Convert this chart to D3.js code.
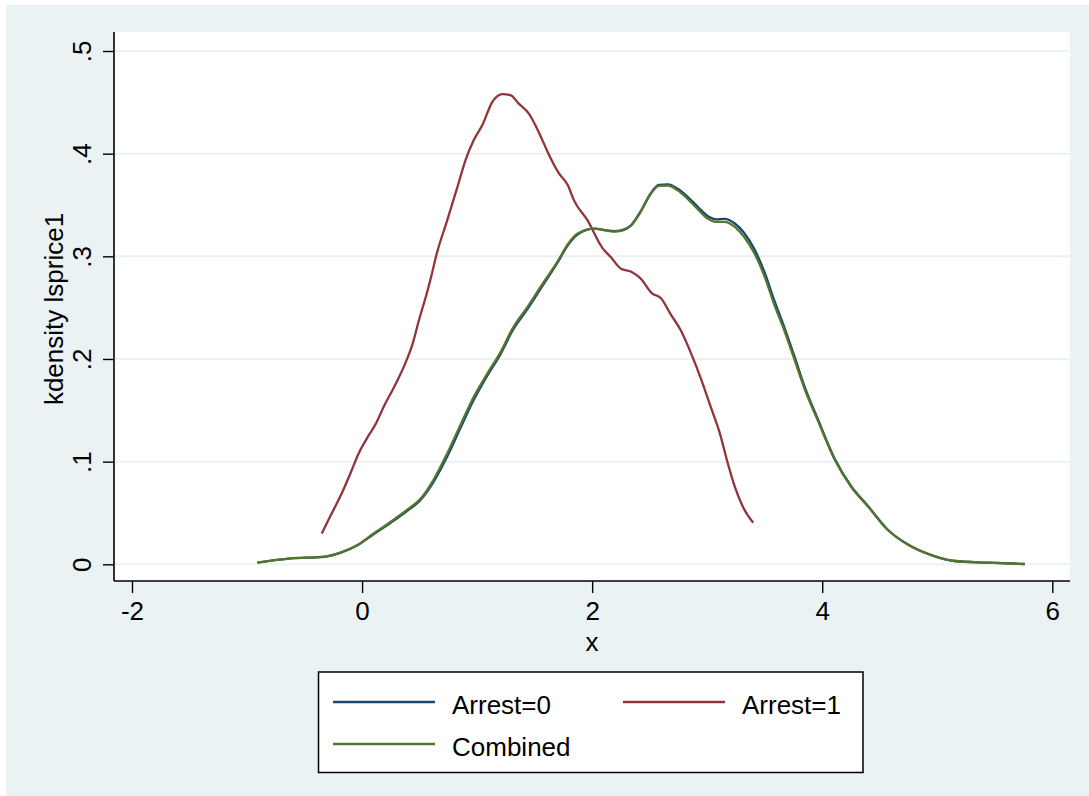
<!DOCTYPE html>
<html>
<head>
<meta charset="utf-8">
<script src="https://cdn.jsdelivr.net/npm/d3@7"></script>
<style>
  body { margin: 0; background: #fff; }
  text { font-family: "Liberation Sans", Arial, Helvetica, sans-serif; fill: #000; }
</style>
</head>
<body>
<svg id="chart" width="1089" height="796"></svg>
<script>
// kernel density estimates
const arrest0X = [-0.91, -0.62, -0.33, -0.19, -0.04, 0.10, 0.25, 0.39, 0.51, 0.62, 0.74, 0.86, 0.97, 1.09, 1.20, 1.31, 1.44, 1.55, 1.70, 1.79, 1.87, 2.02, 2.10, 2.19, 2.26, 2.34, 2.42, 2.51, 2.58, 2.66, 2.74, 2.83, 2.92, 3.00, 3.08, 3.15, 3.24, 3.32, 3.41, 3.50, 3.58, 3.67, 3.76, 3.85, 3.96, 4.11, 4.25, 4.40, 4.57, 4.75, 4.92, 5.15, 5.44, 5.76];
const arrest0Y = [0.0016, 0.0058, 0.0073, 0.0111, 0.0185, 0.0293, 0.0405, 0.0518, 0.0628, 0.080, 0.105, 0.134, 0.160, 0.184, 0.204, 0.228, 0.249, 0.268, 0.294, 0.311, 0.321, 0.327, 0.3258, 0.3245, 0.3255, 0.3305, 0.3435, 0.3615, 0.3695, 0.370, 0.366, 0.358, 0.348, 0.3395, 0.336, 0.3365, 0.332, 0.323, 0.307, 0.284, 0.258, 0.231, 0.202, 0.172, 0.142, 0.1025, 0.0763, 0.0565, 0.0337, 0.019, 0.0101, 0.0032, 0.0016, 0.0003];

const arrest1X = [-0.35, -0.28, -0.19, -0.10, -0.03, 0.06, 0.12, 0.19, 0.28, 0.38, 0.44, 0.49, 0.57, 0.60, 0.65, 0.74, 0.83, 0.90, 0.97, 1.05, 1.13, 1.22, 1.29, 1.36, 1.45, 1.54, 1.62, 1.71, 1.79, 1.84, 1.96, 2.09, 2.16, 2.25, 2.34, 2.42, 2.52, 2.60, 2.68, 2.77, 2.86, 2.95, 3.03, 3.11, 3.18, 3.24, 3.31, 3.40];
const arrest1Y = [0.030, 0.046, 0.066, 0.089, 0.108, 0.126, 0.137, 0.154, 0.173, 0.197, 0.215, 0.236, 0.267, 0.280, 0.303, 0.335, 0.368, 0.394, 0.413, 0.429, 0.450, 0.458, 0.457, 0.449, 0.439, 0.420, 0.400, 0.381, 0.369, 0.355, 0.335, 0.308, 0.2995, 0.288, 0.285, 0.2785, 0.264, 0.259, 0.244, 0.228, 0.2055, 0.1795, 0.1535, 0.1276, 0.098, 0.0756, 0.056, 0.0405];

const combinedX = arrest0X;
const combinedY = [0.0016, 0.0058, 0.0074, 0.0113, 0.0188, 0.030, 0.0415, 0.053, 0.064, 0.082, 0.108, 0.137, 0.163, 0.186, 0.206, 0.230, 0.251, 0.270, 0.295, 0.312, 0.322, 0.327, 0.3255, 0.324, 0.325, 0.330, 0.343, 0.361, 0.3687, 0.369, 0.3645, 0.356, 0.3457, 0.337, 0.3336, 0.3336, 0.3287, 0.319, 0.303, 0.280, 0.254, 0.228, 0.199, 0.170, 0.1405, 0.1016, 0.0756, 0.056, 0.0334, 0.0188, 0.010, 0.0032, 0.0016, 0.0003];

const xTicks = [-2, 0, 2, 4, 6];
const yTicks = [0, 0.1, 0.2, 0.3, 0.4, 0.5];
const yTickLabels = ["0", ".1", ".2", ".3", ".4", ".5"];
const legendLabels = ["Arrest=0", "Arrest=1", "Combined"];
const colors = ["#1a476f", "#90353b", "#55752f"];

const zip = (xs, ys) => xs.map((x, i) => ({ x: x, y: ys[i] }));
const series = [
    { name: legendLabels[0], color: colors[0], values: zip(arrest0X, arrest0Y) },
    { name: legendLabels[1], color: colors[1], values: zip(arrest1X, arrest1Y) },
    { name: legendLabels[2], color: colors[2], values: zip(combinedX, combinedY) }
];

const FONT = 26;
const svg = d3.select("#chart");
// graph region + plot region (stata s2color look)
svg.append("rect").attr("x", 6).attr("y", 5).attr("width", 1083).attr("height", 791).attr("fill", "#eaf2f3");
const plot = { left: 114, right: 1070, top: 32, bottom: 581 };
svg.append("rect").attr("x", plot.left).attr("y", plot.top)
    .attr("width", plot.right - plot.left).attr("height", plot.bottom - plot.top).attr("fill", "#fff");

const x = d3.scaleLinear().domain([-2, 6]).range([132, 1052.3]);
const y = d3.scaleLinear().domain([0, 0.5]).range([564.3, 51]);

// gridlines
svg.append("g").selectAll("line").data(yTicks).enter().append("line")
    .attr("x1", plot.left).attr("x2", plot.right)
    .attr("y1", d => y(d)).attr("y2", d => y(d))
    .attr("stroke", "#eaf2f3").attr("stroke-width", 2);

// curves
const line = d3.line().x(d => x(d.x)).y(d => y(d.y)).curve(d3.curveMonotoneX);
svg.append("g").selectAll("path").data(series).enter().append("path")
    .attr("d", d => line(d.values))
    .attr("fill", "none").attr("stroke", d => d.color).attr("stroke-width", 2.3)
    .attr("stroke-linejoin", "round");

// y axis
const yAxis = svg.append("g").attr("transform", `translate(${plot.left},0)`)
    .call(d3.axisLeft(y).tickValues(yTicks).tickSize(11).tickFormat((d, i) => yTickLabels[i]));
yAxis.select(".domain").attr("d", `M0,${plot.top}V${plot.bottom}`).attr("stroke", "#000").attr("stroke-width", 1.6);
yAxis.selectAll(".tick line").attr("stroke", "#000").attr("stroke-width", 1.4);
yAxis.selectAll(".tick text").attr("x", null).attr("dy", null)
    .attr("transform", "translate(-23,0) rotate(-90)")
    .attr("text-anchor", "middle").attr("font-size", FONT).attr("fill", "#000")
    .style("font-family", "'Liberation Sans', Arial, sans-serif");

// x axis
const xAxis = svg.append("g").attr("transform", `translate(0,${plot.bottom})`)
    .call(d3.axisBottom(x).tickValues(xTicks).tickSize(12).tickFormat(d3.format("d")));
xAxis.select(".domain").attr("d", `M${plot.left},0H${plot.right}`).attr("stroke", "#000").attr("stroke-width", 1.6);
xAxis.selectAll(".tick line").attr("stroke", "#000").attr("stroke-width", 1.4);
xAxis.selectAll(".tick text").attr("y", 39).attr("dy", null)
    .attr("font-size", FONT).attr("fill", "#000")
    .style("font-family", "'Liberation Sans', Arial, sans-serif")
    .text(d => d < 0 ? "-" + Math.abs(d) : d);

// axis titles
svg.append("text").attr("transform", "translate(63,309) rotate(-90)")
    .attr("text-anchor", "middle").attr("font-size", FONT).text("kdensity lsprice1");
svg.append("text").attr("x", (plot.left + plot.right) / 2).attr("y", 651)
    .attr("text-anchor", "middle").attr("font-size", FONT).text("x");

// legend
const legend = svg.append("g");
legend.append("rect").attr("x", 318.5).attr("y", 672).attr("width", 544.5).attr("height", 100.5)
    .attr("fill", "#fff").attr("stroke", "#000").attr("stroke-width", 1.5);
const legendPos = [
    { lx: 333, ly: 702, tx: 452, ty: 714 },
    { lx: 623, ly: 702, tx: 742, ty: 714 },
    { lx: 333, ly: 744, tx: 452, ty: 755.5 }
];
const items = legend.selectAll("g.item").data(series).enter().append("g").attr("class", "item");
items.append("line")
    .attr("x1", (d, i) => legendPos[i].lx).attr("x2", (d, i) => legendPos[i].lx + 102)
    .attr("y1", (d, i) => legendPos[i].ly).attr("y2", (d, i) => legendPos[i].ly)
    .attr("stroke", d => d.color).attr("stroke-width", 2.3);
items.append("text")
    .attr("x", (d, i) => legendPos[i].tx).attr("y", (d, i) => legendPos[i].ty)
    .attr("font-size", FONT).text(d => d.name);
</script>
</body>
</html>
